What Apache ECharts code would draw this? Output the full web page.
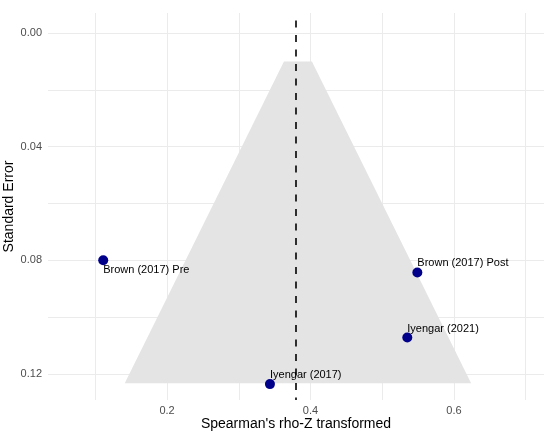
<!DOCTYPE html>
<html>
<head>
<meta charset="utf-8">
<script src="https://cdn.jsdelivr.net/npm/echarts@6/dist/echarts.min.js"></script>
<style>
  html, body { margin: 0; padding: 0; background: #fff; }
  #chart { width: 550px; height: 436px; }
</style>
</head>
<body>
<div id="chart"></div>
<script>
// studies
var studyNames = ['Brown (2017) Pre', 'Brown (2017) Post', 'Iyengar (2021)', 'Iyengar (2017)'];
var effectZ = [0.111, 0.549, 0.535, 0.3435];
var stdErr = [0.080, 0.0843, 0.1072, 0.1236];

// pooled estimate and funnel outline (corners)
var pooled = 0.383;
var funnelX = [0.363, 0.402, 0.624, 0.141];
var funnelSE = [0.010, 0.010, 0.1233, 0.1233];

// labelled ticks
var xTicks = [0.2, 0.4, 0.6];
var yTicks = [0, 0.04, 0.08, 0.12];

var labelBelow = ['Brown (2017) Pre'];

function isTick(list, v) {
  return list.some(function (t) { return Math.abs(t - v) < 1e-9; });
}

var points = [];
for (var i = 0; i < studyNames.length; i++) {
  var below = labelBelow.indexOf(studyNames[i]) >= 0;
  points.push({
    name: studyNames[i],
    value: [effectZ[i], stdErr[i]],
    label: { position: [5, below ? 15 : -4] }
  });
}

var myChart = echarts.init(document.getElementById('chart'));

var option = {
  animation: false,
  textStyle: { fontFamily: 'Liberation Sans, Arial, sans-serif' },
  grid: { left: 48, right: 6, top: 13, bottom: 36, containLabel: false, outerBoundsMode: 'none' },
  xAxis: {
    type: 'value',
    min: 0.034,
    max: 0.7256,
    splitNumber: 7,
    name: "Spearman's rho-Z transformed",
    nameLocation: 'middle',
    nameGap: 17,
    nameMoveOverlap: false,
    nameTextStyle: { color: '#000', fontSize: 14, verticalAlign: 'top' },
    axisLine: { show: false },
    axisTick: { show: false },
    axisLabel: {
      color: '#4d4d4d', fontSize: 11, margin: 5,
      showMinLabel: false, showMaxLabel: false,
      formatter: function (v) { return isTick(xTicks, v) ? v.toFixed(1) : ''; }
    },
    splitLine: { show: true, showMinLine: false, showMaxLine: false, lineStyle: { color: '#ebebeb', width: 1 } }
  },
  yAxis: {
    type: 'value',
    inverse: true,
    min: -0.00705,
    max: 0.1292,
    splitNumber: 7,
    name: 'Standard Error',
    nameLocation: 'middle',
    nameGap: 39,
    nameMoveOverlap: false,
    nameTextStyle: { color: '#000', fontSize: 14, verticalAlign: 'middle' },
    axisLine: { show: false },
    axisTick: { show: false },
    axisLabel: {
      color: '#4d4d4d', fontSize: 11, margin: 6,
      showMinLabel: false, showMaxLabel: false,
      formatter: function (v) { return isTick(yTicks, v) ? v.toFixed(2) : ''; }
    },
    splitLine: { show: true, showMinLine: false, showMaxLine: false, lineStyle: { color: '#ebebeb', width: 1 } }
  },
  series: [
    {
      type: 'custom',
      z: 1,
      silent: true,
      data: [0],
      renderItem: function (params, api) {
        var pts = funnelX.map(function (x, k) { return api.coord([x, funnelSE[k]]); });
        return {
          type: 'polygon',
          shape: { points: pts },
          style: { fill: '#e4e4e4' }
        };
      }
    },
    {
      type: 'scatter',
      z: 3,
      symbolSize: 10,
      itemStyle: { color: '#00008b', opacity: 1 },
      data: points,
      label: {
        show: true,
        formatter: '{b}',
        color: '#000',
        fontSize: 11,
        align: 'left',
        verticalAlign: 'middle'
      },
      markLine: {
        silent: true,
        symbol: ['none', 'none'],
        label: { show: false },
        lineStyle: { color: '#000', width: 1.6, type: [7, 7.5], dashOffset: 7 },
        data: [{ xAxis: pooled }]
      }
    }
  ]
};

myChart.setOption(option);
</script>
</body>
</html>
